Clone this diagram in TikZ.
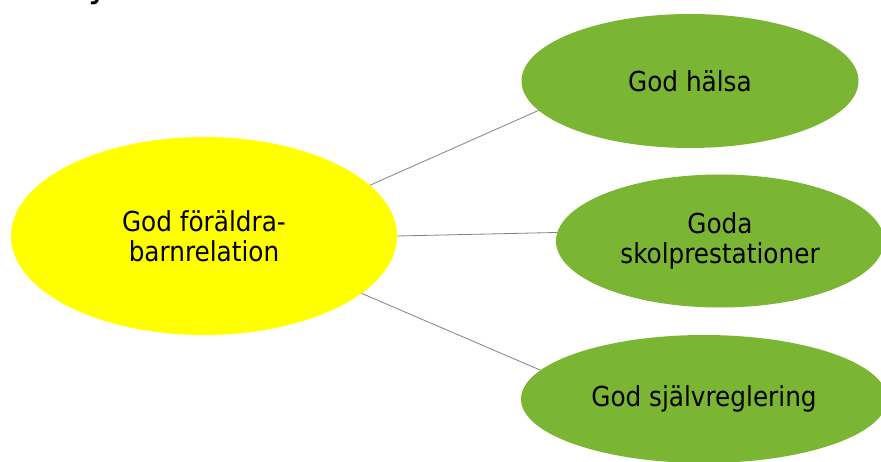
\documentclass[tikz,border=0pt]{standalone}
\usepackage{fontspec}
\setmainfont{DejaVu Sans Condensed}
\usetikzlibrary{shapes.geometric}
\definecolor{leafgreen}{RGB}{123,181,52}
\definecolor{sunyellow}{RGB}{255,255,0}

\begin{document}
\begin{tikzpicture}[x=1pt,y=-1pt,
    bubble/.style={ellipse,inner sep=0pt,align=center,font=\fontsize{27.5}{30}\selectfont},
    link/.style={draw=gray,line width=0.8pt}]
    \useasboundingbox (0,0) rectangle (881,462);

    % cut-off title
    \node[anchor=base,inner sep=0pt,font=\fontsize{40}{48}\selectfont] (title) at (99,-3) {y};

    % draw ellipses
    \node[bubble,fill=sunyellow,minimum width=386pt,minimum height=198pt] (parent) at (204,236) {God föräldra-\\barnrelation};
    \node[bubble,fill=leafgreen,minimum width=337pt,minimum height=134pt] (health) at (690,81) {God hälsa};
    \node[bubble,fill=leafgreen,minimum width=328pt,minimum height=133pt] (school) at (720,241) {Goda\\skolprestationer};
    \node[bubble,fill=leafgreen,minimum width=366pt,minimum height=128pt] (control) at (704,399) {God självreglering};

    % draw links
    \draw[link] (parent.17) -- (health.191);
    \draw[link] (parent.0) -- (school.177);
    \draw[link] (parent.-20) -- (control.170);

\end{tikzpicture}
\end{document}
